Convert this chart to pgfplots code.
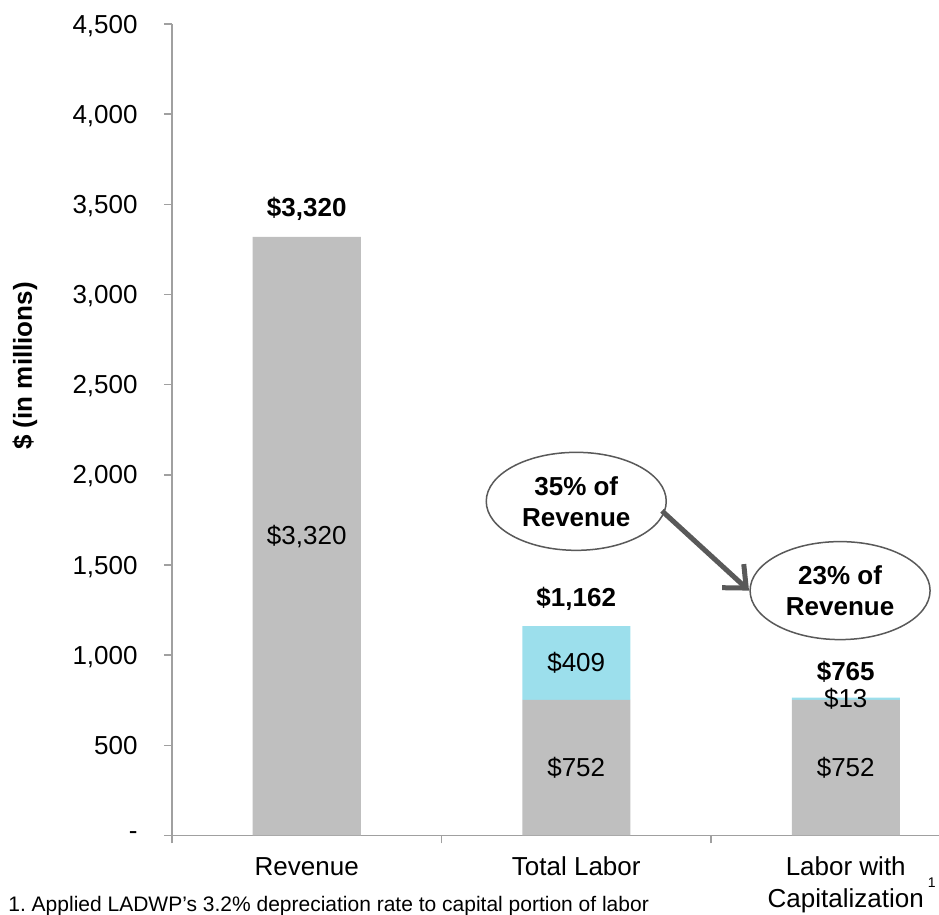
\documentclass[border=0pt]{standalone}
\usepackage{pgfplots}
\pgfplotsset{compat=1.18}
\usepackage{fontspec}
\setmainfont{Liberation Sans}
\usetikzlibrary{arrows.meta,shapes.geometric}
\definecolor{bargray}{RGB}{191,191,191}
\definecolor{barcyan}{RGB}{156,223,236}
\definecolor{axgray}{RGB}{160,160,160}
\definecolor{darkg}{RGB}{89,89,89}
\newcommand\lbl{\fontsize{13pt}{15.5pt}\selectfont}
\begin{document}
\begin{tikzpicture}
\begin{axis}[
  at={(86pt,39.75pt)}, anchor=south west,
  scale only axis, width=383.5pt, height=405.75pt,
  xmin=-0.5, xmax=2.346, ymin=0, ymax=4500,
  axis x line=bottom, axis y line=left,
  axis line style={-, draw=axgray, line width=0.8pt},
  xtick={-0.5,0.5,1.5}, xticklabels={},
  ytick={0,500,1000,1500,2000,2500,3000,3500,4000,4500},
  yticklabels={-,500,{1,000},{1,500},{2,000},{2,500},{3,000},{3,500},{4,000},{4,500}},
  tick align=outside, major tick length=4pt,
  tick style={draw=axgray, line width=0.8pt},
  yticklabel style={font=\lbl, anchor=east, inner sep=0pt, text depth=0pt, xshift=-13pt},
  ybar stacked, bar width=54pt,
  clip=false,
]
\addplot[fill=bargray, draw=none] coordinates {(0,3320) (1,752) (2,752)};
\addplot[fill=barcyan, draw=none] coordinates {(0,0) (1,409) (2,13)};

\coordinate (r1) at (axis cs:0,1660);
\coordinate (r2) at (axis cs:0,3475);
\coordinate (t1) at (axis cs:1,376);
\coordinate (t2) at (axis cs:1,956);
\coordinate (t3) at (axis cs:1,1310);
\coordinate (l1) at (axis cs:2,376);
\coordinate (l2) at (axis cs:2,758);
\coordinate (l3) at (axis cs:2,910);
\coordinate (x0) at (axis cs:0,0);
\coordinate (x1) at (axis cs:1,0);
\coordinate (x2) at (axis cs:2,0);
\coordinate (e1) at (axis cs:1,1853);
\coordinate (e2) at (axis cs:1.979,1358);
\coordinate (a1) at (axis cs:1.318,1800);
\coordinate (a2) at (axis cs:1.641,1358);
\end{axis}
\node[font=\lbl] at (r1) {\$3,320};
\node[font=\lbl\bfseries] at (r2) {\$3,320};
\node[font=\lbl] at (t1) {\$752};
\node[font=\lbl] at (t2) {\$409};
\node[font=\lbl\bfseries] at (t3) {\$1,162};
\node[font=\lbl] at (l1) {\$752};
\node[font=\lbl] at (l2) {\$13};
\node[font=\lbl\bfseries] at (l3) {\$765};

\node[font=\lbl, anchor=base, yshift=-20.25pt] at (x0) {Revenue};
\node[font=\lbl, anchor=base, yshift=-20.25pt] at (x1) {Total Labor};
\node[font=\lbl, anchor=base, yshift=-20.25pt] at (x2) {Labor with};
\node[font=\lbl, anchor=base, yshift=-36.25pt] at (x2) {Capitalization\rlap{\hspace{2pt}\raisebox{10pt}{\fontsize{7pt}{8pt}\selectfont 1}}};

\node[draw=darkg, line width=0.75pt, ellipse, minimum width=90pt, minimum height=49pt, inner sep=0pt, align=center, font=\lbl\bfseries, fill=white] at (e1) {35\% of\\Revenue};
\node[draw=darkg, line width=0.75pt, ellipse, minimum width=90pt, minimum height=49pt, inner sep=0pt, align=center, font=\lbl\bfseries, fill=white] at (e2) {23\% of\\Revenue};
\draw[darkg, line width=2.5pt, -{Straight Barb[length=9pt,width=16pt]}] (a1) -- (a2);

\node[rotate=90, font=\lbl\bfseries] at (12.5pt,274.5pt) {\$ (in millions)};
\node[anchor=base west, inner sep=0pt, font=\fontsize{10.5pt}{12pt}\selectfont] at (4pt,1.5pt) {1.\ Applied LADWP’s 3.2\% depreciation rate to capital portion of labor};
\pgfresetboundingbox
\useasboundingbox (0,0) rectangle (469.5pt,457.5pt);
\end{tikzpicture}
\end{document}
